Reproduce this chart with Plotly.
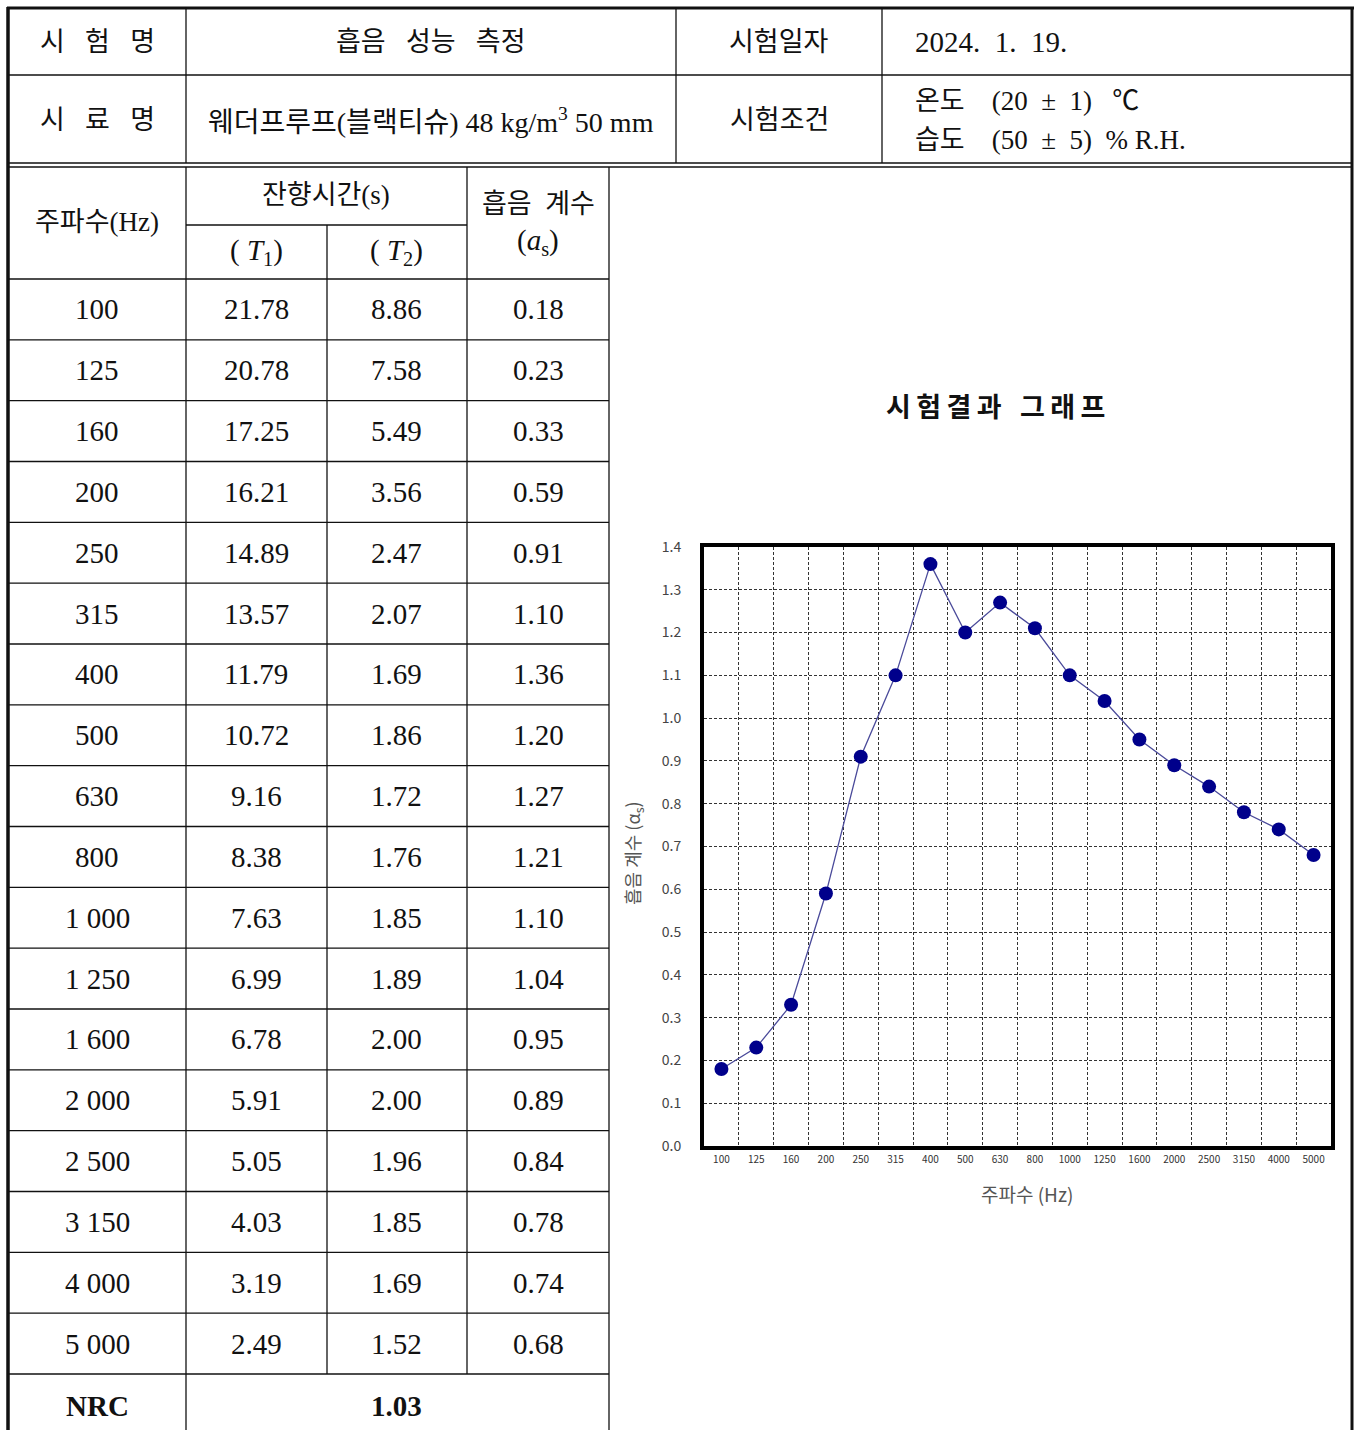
import plotly.graph_objects as go

# ---------------- data ----------------
freq_table = ["100", "125", "160", "200", "250", "315", "400", "500", "630", "800",
              "1 000", "1 250", "1 600", "2 000", "2 500", "3 150", "4 000", "5 000"]
freq_chart = ["100", "125", "160", "200", "250", "315", "400", "500", "630", "800",
              "1000", "1250", "1600", "2000", "2500", "3150", "4000", "5000"]
t1 = ["21.78", "20.78", "17.25", "16.21", "14.89", "13.57", "11.79", "10.72", "9.16", "8.38",
      "7.63", "6.99", "6.78", "5.91", "5.05", "4.03", "3.19", "2.49"]
t2 = ["8.86", "7.58", "5.49", "3.56", "2.47", "2.07", "1.69", "1.86", "1.72", "1.76",
      "1.85", "1.89", "2.00", "2.00", "1.96", "1.85", "1.69", "1.52"]
alpha = [0.18, 0.23, 0.33, 0.59, 0.91, 1.10, 1.36, 1.20, 1.27, 1.21,
         1.10, 1.04, 0.95, 0.89, 0.84, 0.78, 0.74, 0.68]
nrc = "1.03"
y_ticks = [round(0.1 * i, 1) for i in range(15)]

# ---------------- geometry helpers ----------------
W, H = 1355, 1430
def X(p): return p / W
def Y(p): return 1 - p / H

SERIF = "Liberation Serif, Noto Sans CJK KR, serif"
SANS = "Noto Sans CJK KR, sans-serif"
NB = "\u00a0"
TS = "\u2009"

shapes = []
def hline(y, x0, x1, w=1.3, c="#111"):
    shapes.append(dict(type="line", xref="paper", yref="paper", x0=X(x0), x1=X(x1),
                       y0=Y(y), y1=Y(y), line=dict(color=c, width=w)))
def vline(x, y0, y1, w=1.3, c="#111"):
    shapes.append(dict(type="line", xref="paper", yref="paper", x0=X(x), x1=X(x),
                       y0=Y(y0), y1=Y(y1), line=dict(color=c, width=w)))

# outer border
hline(8, 7, 1354, 3)
vline(8, 7, 1430, 3.5)
vline(1352, 7, 1430, 3)
# header block
hline(75, 8, 1352)
vline(186, 8, 163)
vline(676, 8, 163)
vline(882, 8, 163)
hline(163, 8, 1352, 1.6)
hline(167, 8, 1352, 1.6)
# main table
vline(186, 167, 1430)
vline(327, 225, 1374)
vline(467, 167, 1374)
vline(609, 167, 1430)
hline(225, 186, 467)
row0, rh = 279, (1374 - 279) / 18
for k in range(19):
    hline(row0 + k * rh, 8, 609)

annotations = []
def txt(x, y, s, size=29, font=SERIF, anchor="center", color="#111", **kw):
    annotations.append(dict(xref="paper", yref="paper", x=X(x), y=Y(y), text=s,
                            showarrow=False, xanchor=anchor, yanchor="middle",
                            font=dict(family=font, size=size, color=color), **kw))

sp = NB * 3
K = 27
txt(97, 42, f"시{sp}험{sp}명", K)
txt(431, 42, f"흡음{NB*3}성능{NB*3}측정", K)
txt(779, 42, "시험일자", K)
txt(913, 42, f"2024.{NB*2}1.{NB*2}19.", 29, anchor="left")
txt(97, 120, f"시{sp}료{sp}명", K)
txt(431, 120, f"웨더프루프(블랙티슈){NB}48{NB}kg/m<sup>3</sup>{NB}50{NB}mm", 28)
txt(779, 120, "시험조건", K)
txt(913, 101, f"온도{NB*4}(20{NB*2}±{NB*2}1){NB*3}℃", K, anchor="left")
txt(913, 140, f"습도{NB*4}(50{NB*2}±{NB*2}5){NB*2}%{NB}R.H.", K, anchor="left")

txt(97, 222, "주파수(Hz)", K)
txt(326, 195, "잔향시간(s)", K)
txt(256, 252, f"({NB}<i>T</i><sub>1</sub>)", 29)
txt(397, 252, f"({NB}<i>T</i><sub>2</sub>)", 29)
txt(538, 204, f"흡음{NB*2}계수", K)
txt(538, 242, "(<i>a</i><sub>s</sub>)", 29)

for i in range(18):
    yc = row0 + rh * (i + 0.5)
    txt(97, yc, freq_table[i])
    txt(256, yc, t1[i])
    txt(397, yc, t2[i])
    txt(538, yc, f"{alpha[i]:.2f}")
txt(97, 1406, "<b>NRC</b>", 29)
txt(397, 1406, f"<b>{nrc}</b>", 29)

# chart texts
title = TS.join("시험결과") + NB * 3 + TS.join("그래프")
txt(995, 405, f"<b>{title}</b>", 27, font=SANS, color="#111")
txt(1027, 1193, "주파수 (Hz)", 19, font=SANS, color="#555")
txt(633, 853, "흡음 계수 (α<sub>s</sub>)", 18, font=SANS, color="#555", textangle=-90)

# ---------------- chart ----------------
xs = list(range(len(freq_chart)))
fig = go.Figure()
fig.add_trace(go.Scatter(
    x=xs, y=alpha, mode="lines+markers",
    line=dict(color="#4a4a9a", width=1.3),
    marker=dict(color="#00008b", size=14),
    showlegend=False, hoverinfo="skip"))

fig.update_layout(
    width=W, height=H, margin=dict(l=0, r=0, t=0, b=0, pad=0, autoexpand=False),
    paper_bgcolor="white", plot_bgcolor="white",
    shapes=shapes, annotations=annotations,
    xaxis=dict(domain=[X(704), X(1331)], range=[-0.5, 17.5], automargin=False,
               tickmode="array", tickvals=xs, ticktext=freq_chart,
               showgrid=False, zeroline=False, ticks="",
               showline=True, mirror=True, linewidth=4, linecolor="#000",
               tickfont=dict(family=SANS, size=10, color="#333"),
               minor=dict(tickmode="array", tickvals=[i + 0.5 for i in range(17)],
                          showgrid=True, gridcolor="#333", griddash="3px,2px", gridwidth=1,
                          ticks=""),
               ticklabelstandoff=1),
    yaxis=dict(domain=[Y(1146), Y(547)], range=[0, 1.4], automargin=False,
               tickmode="array", tickvals=y_ticks, ticktext=[f"{v:.1f}" for v in y_ticks],
               showgrid=True, gridcolor="#333", griddash="3px,2px", gridwidth=1,
               zeroline=False, ticks="",
               showline=True, mirror=True, linewidth=4, linecolor="#000",
               tickfont=dict(family=SANS, size=14, color="#444"),
               ticklabelstandoff=16),
)

fig.write_html("out.html", config={"displayModeBar": False},
               post_script="document.body.style.margin='0';document.body.style.overflow='hidden';")
